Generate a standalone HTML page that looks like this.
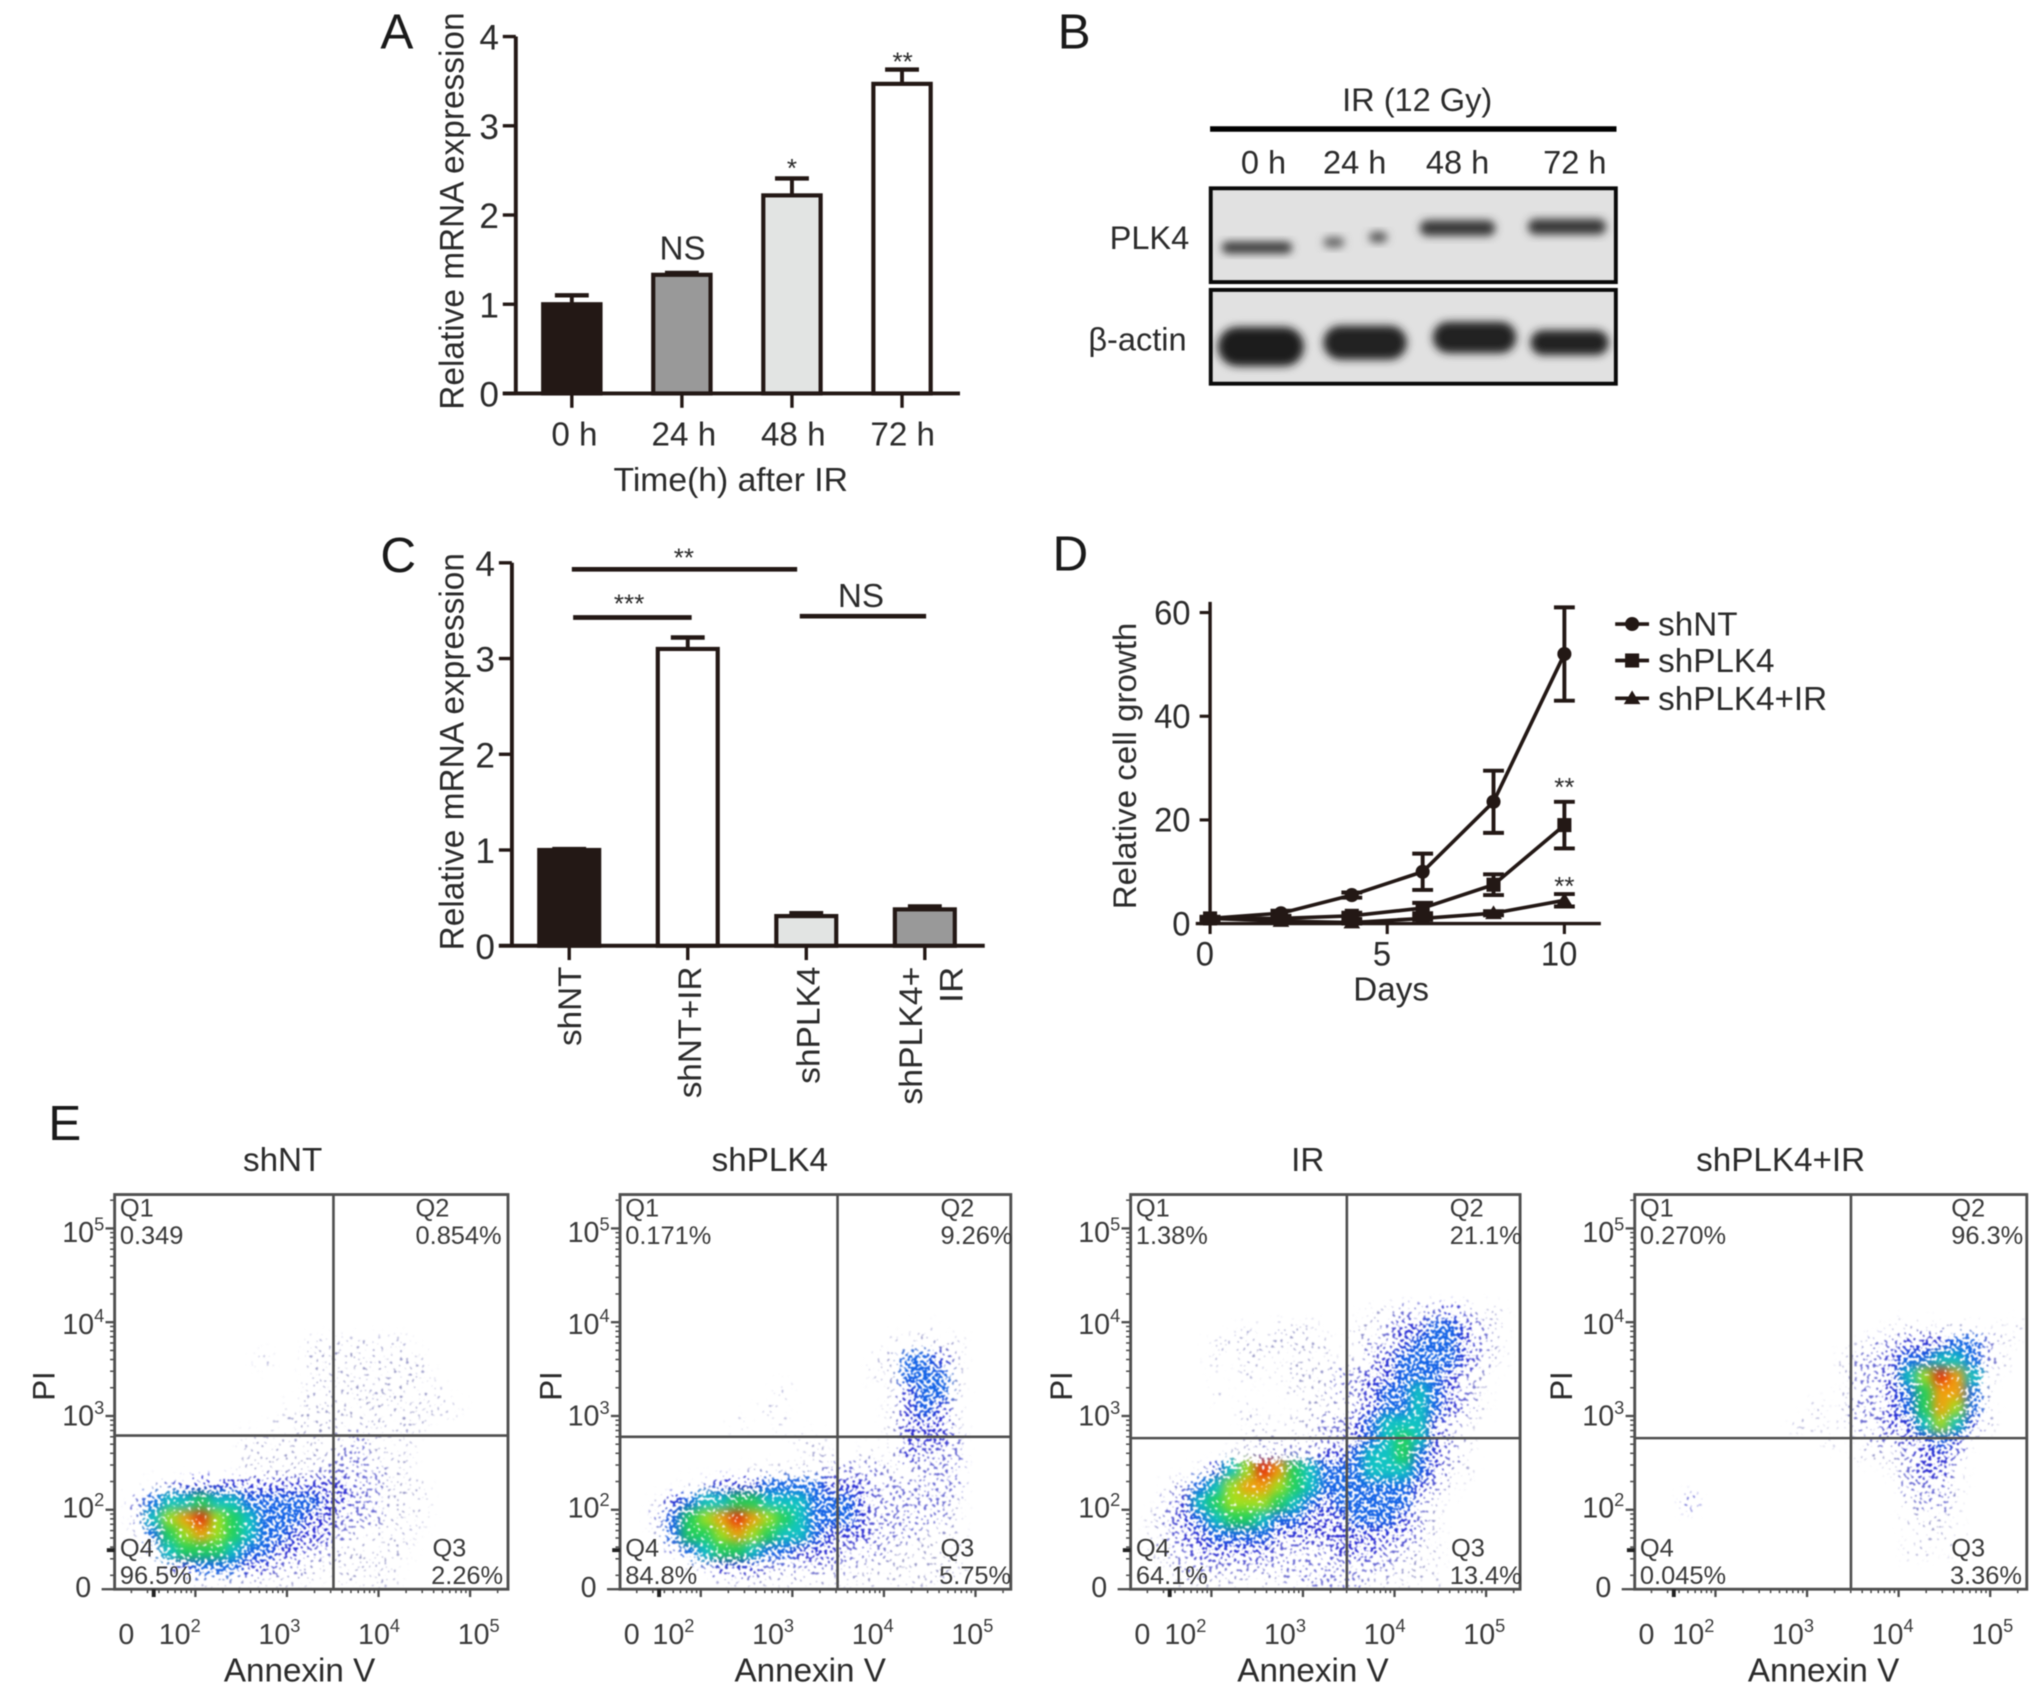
<!DOCTYPE html>
<html lang="en">
<head>
<meta charset="utf-8">
<title>PLK4 expression, growth and apoptosis figure</title>
<style>
html,body{margin:0;padding:0;background:#fff;}
svg{display:block;font-family:"Liberation Sans",Arial,sans-serif;filter:blur(0.5px);}
</style>
</head>
<body>
<svg id="figure" xmlns="http://www.w3.org/2000/svg" width="2032" height="1687" viewBox="0 0 1560 1295">
<defs>
<filter id="soft" x="-50%" y="-50%" width="200%" height="200%"><feGaussianBlur stdDeviation="3.2"/></filter>
<filter id="stipple" filterUnits="userSpaceOnUse" x="0" y="880" width="1560" height="360" color-interpolation-filters="sRGB">
<feGaussianBlur in="SourceGraphic" stdDeviation="4" result="blur"/>
<feColorMatrix in="blur" type="matrix" values="1 0 0 0 0 0 1 0 0 0 0 0 1 0 0 0 0 0 0 1" result="opaque"/>
<feColorMatrix in="blur" type="matrix" values="0 0 0 0 0 0 0 0 0 0 0 0 0 0 0 0 0 0 1 0" result="alpha"/>
<feTurbulence type="fractalNoise" baseFrequency="0.42" numOctaves="1" seed="7" result="turb"/>
<feColorMatrix in="turb" type="matrix" values="0 0 0 0 0 0 0 0 0 0 0 0 0 0 0 2.5 0 0 0 -0.75" result="noise"/>
<feComposite in="alpha" in2="noise" operator="arithmetic" k1="0" k2="1" k3="1" k4="-1" result="sum"/>
<feComponentTransfer in="sum" result="mask"><feFuncA type="linear" slope="6" intercept="0"/></feComponentTransfer>
<feComposite in="opaque" in2="mask" operator="in" result="dots"/>
<feGaussianBlur in="dots" stdDeviation="0.4"/>
</filter>
</defs>
<g id="root"></g>
</svg>
<script>
// ---------- Panel A data ----------
const aCategories = ['0 h', '24 h', '48 h', '72 h'];
const aValues = [1.0, 1.33, 2.22, 3.47];
const aErrors = [0.1, 0.02, 0.19, 0.16];
const aFills = ['#231815', '#999999', '#e2e4e3', '#ffffff'];
const aTicks = [0, 1, 2, 3, 4];

// ---------- Panel C data ----------
const cCategories = ['shNT', 'shNT+IR', 'shPLK4', 'shPLK4+'];
const cValues = [1.0, 3.1, 0.31, 0.38];
const cErrors = [0.01, 0.12, 0.03, 0.03];
const cFills = ['#231815', '#ffffff', '#e2e4e3', '#999999'];
const cTicks = [0, 1, 2, 3, 4];

// ---------- Panel D data ----------
const dDays = [0, 2, 4, 6, 8, 10];
const dShNT = [1, 2, 5.5, 10, 23.5, 52];
const dShNTErr = [0.3, 0.5, 0.5, 3.5, 6, 9];
const dShPLK4 = [1, 1, 1.5, 3, 7.5, 19];
const dShPLK4Err = [0.3, 0.4, 0.6, 1, 2, 4.5];
const dShPLK4IR = [1, 0.5, 0.2, 1, 2, 4.5];
const dShPLK4IRErr = [0.2, 0.2, 0.2, 0.3, 0.4, 1.2];
const dYTicks = [0, 20, 40, 60];
const dXTicks = [0, 5, 10];

// ---------- Panel E data (density per grid cell, 0-9) ----------
const flowTitles = ['shNT', 'shPLK4', 'IR', 'shPLK4+IR'];
const flowQ1 = ['0.349', '0.171%', '1.38%', '0.270%'];
const flowQ2 = ['0.854%', '9.26%', '21.1%', '96.3%'];
const flowQ3 = ['2.26%', '5.75%', '13.4%', '3.36%'];
const flowQ4 = ['96.5%', '84.8%', '64.1%', '0.045%'];
const flowDecades = [100, 1000, 10000, 100000];
const flowLowMinor = [20, 30, 40, 50, 60, 70, 80, 90];
const densityShNT = [
'0000000000000000000000000','0000000000000000000000000','0000000000000000000000000','0000000000000000000000000',
'0000000000000000000000000','0000000000000000000000000','0000000000000000000000000','0000000000000000000000000',
'0000000000000000000000000',
'0000000000001111111000000',
'0000000001001111111100000',
'0000000000001111111100000',
'0000000000001111111110000',
'0000000000011111111111000',
'0000000000111111111100000',
'0000000011111112111000000',
'0000000011111122111000000',
'0000000011111222211000000',
'0012333333333332211100000',
'0245565544444332211100000',
'0257897654443322211100000',
'0146787654433321111000000',
'0025666544332211111000000',
'0002344433221111110000000',
'0000011111111011110000000'];
const densityShPLK4 = [
'0000000000000000000000000','0000000000000000000000000','0000000000000000000000000','0000000000000000000000000',
'0000000000000000000000000','0000000000000000000000000','0000000000000000000000000','0000000000000000000000000',
'0000000000000000000100000',
'0000000000000000011111000',
'0000000000000000114431000',
'0000000000000000114441000',
'0000000000100000013441000',
'0000000001000000013431000',
'0000000100100000013331000',
'0000000000011000013332000',
'0000000000001101113222000',
'0000000011111222211222000',
'0000123334444333222222000',
'0013455665554443222221000',
'0024678987654443222221000',
'0014667876554333222111000',
'0002456654433322211111000',
'0000123332222221111111000',
'0000001111111111111111000'];
const densityIR = [
'0000000000000000000000000','0000000000000000000000000','0000000000000000000000000','0000000000000000000000000',
'0000000000000000000000000','0000000000000000000000000','0000000000000000000000000',
'0000000000000001122232110',
'0000000101110011233443210',
'0000011111111012234443210',
'0000010110111012344443210',
'0000000101111223344432100',
'0000010000111223445432100',
'0000000100011123445432100',
'0000000110112234555321000',
'0000000111112234565321000',
'0000001122223345564321000',
'0000135798654445554311000',
'0012457887654444443210000',
'0023567776543444442100000',
'0123456654433344432100000',
'0123344443333333332100000',
'0122333332222333221100000',
'0012222222222222211100000',
'0001111111222221111100000'];
const densityShPLK4IR = [
'0000000000000000000000000','0000000000000000000000000','0000000000000000000000000','0000000000000000000000000',
'0000000000000000000000000','0000000000000000000000000','0000000000000000000000000','0000000000000000000000000',
'0000000000000000111111011',
'0000000000000012233344210',
'0000000000000122344554210',
'0000000000000122357985100',
'0000000000000122346884100',
'0000000000010122346874100',
'0000000000110122335753100',
'0000000000001012233431000',
'0000000000000011123320000',
'0000000000000000123310000',
'0000000000000000022210000',
'0002000000000000012210000',
'0000000000000000011100000',
'0000000000000000001110000',
'0000000000000000011010000',
'0000000000000000000000000',
'0000000000000000000000000'];
const densityGrids = [densityShNT, densityShPLK4, densityIR, densityShPLK4IR];

const NS = 'http://www.w3.org/2000/svg';
const root = document.getElementById('root');
const INK = '#231815';
const TXT = '#2b2b2b';

function shape(tag, attrs, parent) {
  const el = document.createElementNS(NS, tag);
  for (const k in attrs) el.setAttribute(k, attrs[k]);
  (parent || root).appendChild(el);
  return el;
}
function line(x1, y1, x2, y2, w, color, parent) {
  return shape('line', {x1: x1, y1: y1, x2: x2, y2: y2, stroke: color || INK, 'stroke-width': w || 3}, parent);
}
function text(str, x, y, size, opts) {
  opts = opts || {};
  const a = {x: x, y: y, 'font-size': size, fill: opts.fill || TXT, 'text-anchor': opts.anchor || 'start'};
  if (opts.rot) a.transform = 'rotate(' + opts.rot + ' ' + x + ' ' + y + ')';
  if (opts.len) { a.textLength = opts.len; a.lengthAdjust = 'spacingAndGlyphs'; }
  const el = shape('text', a, opts.parent);
  el.textContent = str;
  return el;
}
function group(parent) {
  return shape('g', {}, parent);
}

// ---------- panel letters ----------
[['A', 292, 37], ['B', 812, 37], ['C', 292, 439], ['D', 808, 438], ['E', 37, 875]].forEach(function (p) {
  const el = text(p[0], p[1], p[2], 38, {fill: '#1a1a1a'});
  
  
});

// ---------- bar chart builder ----------
function barChart(g, cfg) {
  const y = function (v) { return cfg.y0 - v * cfg.unit; };
  const xAxis = line(cfg.xStart, cfg.y0, cfg.xEnd, cfg.y0, 3, INK, g);
  
  
  const yAxis = line(cfg.axisX, y(cfg.ticks[cfg.ticks.length - 1]), cfg.axisX, cfg.y0, 3, INK, g);
  
  
  cfg.ticks.forEach(function (t) {
    const tk = line(cfg.axisX - 10, y(t), cfg.axisX, y(t), 2.6, INK, g);
    
    
    const lb = text(String(t), cfg.axisX - 13, y(t) + 10, 27, {anchor: 'end', parent: g});
    
    
  });
  cfg.values.forEach(function (v, i) {
    const cx = cfg.first + i * cfg.step;
    const er = line(cx, y(v), cx, y(v + cfg.errors[i]), 3, INK, g);
    
    
    const cap = line(cx - 13, y(v + cfg.errors[i]), cx + 13, y(v + cfg.errors[i]), 3.4, INK, g);
    
    
    const bar = shape('rect', {x: cx - cfg.barW / 2, y: y(v), width: cfg.barW, height: v * cfg.unit, fill: cfg.fills[i], stroke: INK, 'stroke-width': 3.2}, g);
    
    
    const tk = line(cx, cfg.y0, cx, cfg.y0 + 11, 2.6, INK, g);
    
    
  });
}

// ---------- Panel A ----------
const gA = group();


barChart(gA, {y0: 302, unit: 68.5, axisX: 396, xStart: 386, xEnd: 737, first: 439, step: 84.5, barW: 44, values: aValues, errors: aErrors, fills: aFills, ticks: aTicks});
aCategories.forEach(function (c, i) {
  const el = text(c, 441 + i * 84, 342, 25.5, {anchor: 'middle', parent: gA});
  
  
});
const aTitle = text('Time(h) after IR', 561, 377, 25.5, {anchor: 'middle', parent: gA, len: 180});


const aYTitle = text('Relative mRNA expression', 356, 162, 26, {anchor: 'middle', rot: -90, parent: gA, len: 305});


const aNS = text('NS', 524, 199, 25.5, {anchor: 'middle', parent: gA});


const aStar1 = text('*', 608, 136, 20, {anchor: 'middle', parent: gA});


const aStar2 = text('**', 693, 54, 20, {anchor: 'middle', parent: gA});



// ---------- Panel B (western blot) ----------
const gB = group();


const bTitle = text('IR (12 Gy)', 1088, 85, 25, {anchor: 'middle', parent: gB});


const bBar = line(929, 99, 1241, 99, 4.2, '#000', gB);


[['0 h', 970], ['24 h', 1040], ['48 h', 1119], ['72 h', 1209]].forEach(function (l) {
  const el = text(l[0], l[1], 133, 25, {anchor: 'middle', parent: gB});
  
  
});
const blot1 = shape('rect', {x: 929.5, y: 144.5, width: 311, height: 72, fill: '#e1e1e1', stroke: '#0a0a0a', 'stroke-width': 3}, gB);


const blot2 = shape('rect', {x: 929.5, y: 222.5, width: 311, height: 72, fill: '#e1e1e1', stroke: '#0a0a0a', 'stroke-width': 3}, gB);


[[965, 190, 27, 4.5, '#3a3a3a'], [1024, 186, 8, 4, '#666'], [1058, 182, 7, 4, '#555'], [1119, 175, 29, 6, '#383838'], [1203, 174, 30, 6, '#383838']].forEach(function (b) {
  const band = shape('rect', {x: b[0] - b[2], y: b[1] - b[3], width: 2 * b[2], height: 2 * b[3], rx: b[3], fill: b[4], filter: 'url(#soft)'}, gB);
  
  
});
[[968, 266, 33, 15, '#1e1e1e'], [1048, 263, 32, 13, '#202020'], [1132, 259, 32, 12, '#202020'], [1205, 263, 30, 9.5, '#222']].forEach(function (b) {
  const band = shape('rect', {x: b[0] - b[2], y: b[1] - b[3], width: 2 * b[2], height: 2 * b[3], rx: b[3], fill: b[4], filter: 'url(#soft)'}, gB);
  
  
});
const bL1 = text('PLK4', 913, 191, 25, {anchor: 'end', parent: gB});


const bL2 = text('β-actin', 911, 269, 25, {anchor: 'end', parent: gB});



// ---------- Panel C ----------
const gC = group();


barChart(gC, {y0: 726, unit: 73.5, axisX: 393, xStart: 383, xEnd: 756, first: 437, step: 91, barW: 46, values: cValues, errors: cErrors, fills: cFills, ticks: cTicks});
[[cCategories[0], 446, 61], [cCategories[1], 538, 101], [cCategories[2], 629, 90], [cCategories[3], 708, 106], ['IR', 739, 28]].forEach(function (l) {
  const el = text(l[0], l[1], 742, 25, {anchor: 'end', rot: -90, parent: gC, len: l[2]});
  
  
});
const cYTitle = text('Relative mRNA expression', 356, 577, 26, {anchor: 'middle', rot: -90, parent: gC, len: 305});


[[439, 612, 437], [440, 531, 474], [614, 711, 473]].forEach(function (s) {
  const el = line(s[0], s[2], s[1], s[2], 3.6, INK, gC);
  
  
});
[['**', 525, 435, 20], ['***', 483, 470, 20], ['NS', 661, 466, 25.5]].forEach(function (s) {
  const el = text(s[0], s[1], s[2], s[3], {anchor: 'middle', parent: gC});
  
  
});

// ---------- Panel D ----------
const gD = group();


const dx = function (d) { return 929 + 27.2 * d; };
const dy = function (v) { return 709 - 3.98 * v; };
const dAxisY = line(dx(0), 462, dx(0), dy(0), 2.6, INK, gD);


const dAxisX = line(918, dy(0), 1229, dy(0), 2.6, INK, gD);


dYTicks.forEach(function (t) {
  const tk = line(dx(0) - 8, dy(t), dx(0), dy(t), 2.4, INK, gD);
  
  
  const lb = text(String(t), 914, dy(t) + 9, 26, {anchor: 'end', parent: gD, len: t === 0 ? 14 : 28});
  
  
});
dXTicks.forEach(function (t) {
  const tk = line(dx(t), dy(0), dx(t), dy(0) + 8, 2.4, INK, gD);
  
  
  const lb = text(String(t), dx(t) - 4, 741, 26, {anchor: 'middle', parent: gD, len: t === 10 ? 28 : 14});
  
  
});
const dXT = text('Days', 1068, 768, 25.5, {anchor: 'middle', parent: gD});


const dYT = text('Relative cell growth', 872, 588, 25, {anchor: 'middle', rot: -90, parent: gD, len: 220});



function marker(kind, x, y, parent) {
  if (kind === 'circle') return shape('circle', {cx: x, cy: y, r: 5.4, fill: INK}, parent);
  if (kind === 'square') return shape('rect', {x: x - 5.4, y: y - 5.4, width: 10.8, height: 10.8, fill: INK}, parent);
  return shape('path', {d: 'M' + x + ' ' + (y - 6) + 'L' + (x + 6.4) + ' ' + (y + 4.5) + 'L' + (x - 6.4) + ' ' + (y + 4.5) + 'Z', fill: INK}, parent);
}
function lineSeries(vals, errs, kind) {
  const path = shape('polyline', {points: vals.map(function (v, i) { return dx(dDays[i]) + ',' + dy(v); }).join(' '), fill: 'none', stroke: INK, 'stroke-width': 2.8}, gD);
  
  
  vals.forEach(function (v, i) {
    const px = dx(dDays[i]);
    const er = line(px, dy(v - errs[i]), px, dy(v + errs[i]), 3, INK, gD);
    
    
    const c1 = line(px - 8, dy(v + errs[i]), px + 8, dy(v + errs[i]), 3, INK, gD);
    
    
    const c2 = line(px - 8, dy(v - errs[i]), px + 8, dy(v - errs[i]), 3, INK, gD);
    
    
    const m = marker(kind, px, dy(v), gD);
    
    
  });
}
lineSeries(dShNT, dShNTErr, 'circle');
lineSeries(dShPLK4, dShPLK4Err, 'square');
lineSeries(dShPLK4IR, dShPLK4IRErr, 'triangle');
[['shNT', 'circle', 479], ['shPLK4', 'square', 507], ['shPLK4+IR', 'triangle', 536]].forEach(function (l) {
  const ll = line(1240, l[2], 1266, l[2], 2.8, INK, gD);
  
  
  const mk = marker(l[1], 1253, l[2], gD);
  
  
  const lt = text(l[0], 1273, l[2] + 9, 25.5, {parent: gD});
  
  
});
[[1201, 611], [1201, 687]].forEach(function (s) {
  const el = text('**', s[0], s[1], 20, {anchor: 'middle', parent: gD});
  
  
});

// ---------- Panel E (flow cytometry) ----------
const densityColors = ['none', '#8f8fc4', '#6a6ad2', '#2a2ad2', '#1464e6', '#12c4c4', '#22d25a', '#a4e01e', '#f2a00e', '#e62c0c'];
const densityAlpha = [0, 0.15, 0.31, 0.44, 0.64, 0.9, 1, 1, 1, 1];
const flowBoxes = [
  {x: 88, w: 302, v: 256, h: 1102, lx: 50, ty: 217, ax: 142, pi: -46, q2: 319, q3: 331},
  {x: 476, w: 300, v: 643, h: 1103, lx: 41, ty: 591, ax: 146, pi: -45, q2: 722, q3: 721},
  {x: 868, w: 299, v: 1034, h: 1104, lx: 42, ty: 1004, ax: 140, pi: -45, q2: 1113, q3: 1113},
  {x: 1255, w: 301, v: 1421, h: 1104, lx: 45, ty: 1367, ax: 145, pi: -48, q2: 1498, q3: 1497}
];
const FT = 917, FB = 1220, GRID = '#4f4f4f', FTXT = '#3a3a3a';
flowBoxes.forEach(function (b, idx) {
  const g = group();
  
  
  const clipId = 'clip' + idx;
  const cp = shape('clipPath', {id: clipId}, g);
  shape('rect', {x: b.x, y: FT, width: b.w, height: FB - FT}, cp);
  const clip = shape('g', {'clip-path': 'url(#' + clipId + ')'}, g);
  const dens = shape('g', {filter: 'url(#stipple)'}, clip);
  
  
  const rows = densityGrids[idx];
  const cw = b.w / 25, ch = (FB - FT) / 25;
  rows.forEach(function (row, r) {
    row.split('').forEach(function (ch0, c) {
      const d = Number(ch0);
      if (!d) return;
      const cell = shape('rect', {x: b.x + c * cw, y: FT + r * ch, width: cw + 0.2, height: ch + 0.2, fill: densityColors[d], 'fill-opacity': densityAlpha[d]}, dens);
      
      
    });
  });
  const frame = shape('rect', {x: b.x, y: FT, width: b.w, height: FB - FT, fill: 'none', stroke: GRID, 'stroke-width': 2.2}, g);
  
  
  const gv = line(b.v, FT, b.v, FB, 2, GRID, g);
  
  
  const gh = line(b.x, b.h, b.x + b.w, b.h, 2, GRID, g);
  
  

  const fx = function (v) { return b.x + 62 + 70.3 * (Math.log10(v) - 2); };
  const fy = function (v) { return 1159 - 72 * (Math.log10(v) - 2); };
  const lx = function (v) { return b.x + b.lx + 76.5 * (Math.log10(v) - 2); };
  const ly = function (v) { return 1157 - 70.5 * (Math.log10(v) - 2); };
  function minor(v) {
    if (fy(v) > FT && fy(v) < FB) {
      const my = line(b.x - 3.5, fy(v), b.x, fy(v), 1.2, GRID, g);
      
      
    }
    if (fx(v) > b.x && fx(v) < b.x + b.w) {
      const mx = line(fx(v), FB, fx(v), FB + 3, 1.2, GRID, g);
      
      
    }
  }
  flowLowMinor.forEach(minor);
  flowDecades.forEach(function (v) {
    const ty = line(b.x - 7, fy(v), b.x, fy(v), 1.8, GRID, g);
    
    
    const tx = line(fx(v), FB, fx(v), FB + 6, 1.8, GRID, g);
    
    
    [2, 3, 4, 5, 6, 7, 8, 9].forEach(function (k) { minor(v * k); });
    const yl = text('', b.x - 8, ly(v) + 8, 22, {anchor: 'end', parent: g, fill: FTXT});
    
    
    shape('tspan', {}, yl).textContent = '10';
    const ys = shape('tspan', {dy: -9, 'font-size': 14}, yl);
    ys.textContent = String(Math.round(Math.log10(v)));
    const xl = text('', lx(v), 1262, 22, {anchor: 'middle', parent: g, fill: FTXT});
    
    
    shape('tspan', {}, xl).textContent = '10';
    const xs = shape('tspan', {dy: -9, 'font-size': 14}, xl);
    xs.textContent = String(Math.round(Math.log10(v)));
  });
  const yz = text('0', b.x - 18, 1226, 22, {anchor: 'end', parent: g, fill: FTXT});
  
  
  const xz = text('0', b.x + 9, 1262, 22, {anchor: 'middle', parent: g, fill: FTXT});
  
  
  const zeroY = line(b.x - 10, FB, b.x, FB, 1.8, GRID, g);
  
  
  const kinkY = line(b.x - 6, 1190, b.x, 1190, 3, '#222', g);
  
  
  const kinkX = line(b.x + 30, FB, b.x + 30, FB + 6, 3, '#222', g);
  
  

  const title = text(flowTitles[idx], b.ty, 899, 25.5, {anchor: 'middle', parent: g});
  
  
  const xt = text('Annexin V', b.x + b.ax, 1291, 25.5, {anchor: 'middle', parent: g});
  
  
  const yt = text('PI', b.x + b.pi, 1064, 24, {anchor: 'middle', rot: -90, parent: g});
  
  

  [['Q1', b.x + 4, 934], [flowQ1[idx], b.x + 4, 955], ['Q2', b.q2, 934], [flowQ2[idx], b.q2, 955],
   ['Q4', b.x + 4, 1195], [flowQ4[idx], b.x + 4, 1216], ['Q3', b.q3 + 1, 1195], [flowQ3[idx], b.q3, 1216]].forEach(function (q) {
    const el = text(q[0], q[1], q[2], 19.5, {parent: g, fill: FTXT});
    
    
  });
});
</script>
</body>
</html>
